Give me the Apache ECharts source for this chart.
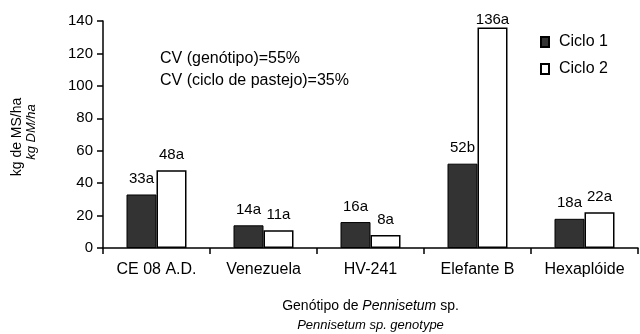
<!DOCTYPE html>
<html>
<head>
<meta charset="utf-8">
<script src="https://cdn.jsdelivr.net/npm/echarts@6/dist/echarts.min.js"></script>
<style>
  html, body { margin: 0; padding: 0; background: #fff; }
  #chart { width: 640px; height: 334px; }
</style>
</head>
<body>
<div id="chart"></div>
<script>
// Forage yield per genotype and grazing cycle
const genotypes = ['CE 08 A.D.', 'Venezuela', 'HV-241', 'Elefante B', 'Hexaplóide'];
const ciclo1 = [33, 14, 16, 52, 18];
const ciclo2 = [48, 11, 8, 136, 22];
const letters1 = ['a', 'a', 'a', 'b', 'a'];
const letters2 = ['a', 'a', 'a', 'a', 'a'];
const yTicks = [0, 20, 40, 60, 80, 100, 120, 140];

const FONT = 'Liberation Sans, Arial, sans-serif';
const Y_MAX = yTicks[yTicks.length - 1];

// Labels of bars reaching the top of the plot sit flush on the bar
function withLabels(values, letters) {
  return values.map((v, i) => {
    const item = { value: v, letter: letters[i] };
    if (v > Y_MAX - 10) item.label = { distance: 0 };
    return item;
  });
}

const labelStyle = {
  show: true,
  position: 'top',
  distance: 8,
  fontFamily: FONT,
  fontSize: 15,
  color: '#000',
  formatter: p => p.value + p.data.letter
};

const chart = echarts.init(document.getElementById('chart'));

chart.setOption({
  animation: false,
  backgroundColor: '#fff',
  textStyle: { fontFamily: FONT, color: '#000' },
  grid: { left: 103, right: 2, top: 21, bottom: 86, containLabel: false, outerBoundsMode: 'none' },
  legend: {
    orient: 'vertical',
    left: 540,
    top: 33,
    padding: 0,
    icon: 'rect',
    itemWidth: 8,
    itemHeight: 10,
    itemGap: 9,
    textStyle: { fontFamily: FONT, fontSize: 16, lineHeight: 18, color: '#000', padding: [0, 0, 0, 5] },
    data: ['Ciclo 1', 'Ciclo 2']
  },
  xAxis: {
    type: 'category',
    data: genotypes,
    axisLine: { lineStyle: { color: '#000', width: 1.5 } },
    axisTick: { show: true, length: 6, lineStyle: { color: '#000', width: 1.5 } },
    axisLabel: { fontFamily: FONT, fontSize: 16, color: '#000', margin: 14 },
    name: '{a|Genótipo de }{i|Pennisetum}{a| sp.}\n{s|Pennisetum sp. genotype}',
    nameLocation: 'middle',
    nameGap: 49,
    nameTextStyle: {
      lineHeight: 19,
      rich: {
        a: { fontFamily: FONT, fontSize: 14, color: '#000', lineHeight: 19 },
        i: { fontFamily: FONT, fontSize: 14, fontStyle: 'italic', color: '#000', lineHeight: 19 },
        s: { fontFamily: FONT, fontSize: 13, fontStyle: 'italic', color: '#000', lineHeight: 19 }
      }
    }
  },
  yAxis: {
    type: 'value',
    min: yTicks[0],
    max: Y_MAX,
    interval: 20,
    splitLine: { show: false },
    axisLine: { show: true, lineStyle: { color: '#000', width: 1.5 } },
    axisTick: { show: true, length: 6, lineStyle: { color: '#000', width: 1.5 } },
    axisLabel: { fontFamily: FONT, fontSize: 15, color: '#000', margin: 10 }
  },
  series: [
    {
      name: 'Ciclo 1',
      type: 'bar',
      data: withLabels(ciclo1, letters1),
      barWidth: 30,
      barGap: '0%',
      itemStyle: { color: '#333333', borderColor: '#000', borderWidth: 1 },
      label: labelStyle
    },
    {
      name: 'Ciclo 2',
      type: 'bar',
      data: withLabels(ciclo2, letters2),
      barWidth: 30,
      barGap: '0%',
      itemStyle: { color: '#ffffff', borderColor: '#000', borderWidth: 1.5 },
      label: labelStyle
    }
  ],
  graphic: [
    {
      type: 'text', x: 160, y: 59,
      style: { text: 'CV (genótipo)=55%', font: '16px ' + FONT, fill: '#000', verticalAlign: 'middle' }
    },
    {
      type: 'text', x: 160, y: 81,
      style: { text: 'CV (ciclo de pastejo)=35%', font: '16px ' + FONT, fill: '#000', verticalAlign: 'middle' }
    },
    {
      type: 'text', x: 17, y: 137, rotation: Math.PI / 2,
      style: { text: 'kg de MS/ha', font: '14px ' + FONT, fill: '#000', align: 'center', verticalAlign: 'middle' }
    },
    {
      type: 'text', x: 31, y: 132, rotation: Math.PI / 2,
      style: { text: 'kg DM/ha', font: 'italic 13px ' + FONT, fill: '#000', align: 'center', verticalAlign: 'middle' }
    }
  ]
});
</script>
</body>
</html>
